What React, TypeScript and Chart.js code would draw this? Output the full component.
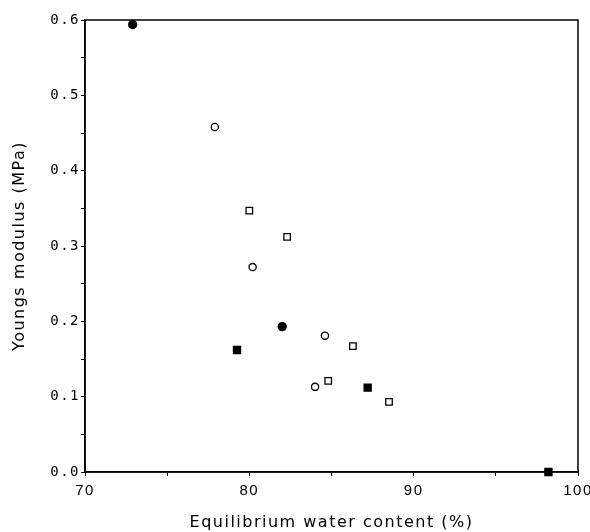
import React, { useEffect, useRef } from "react";
import { Chart, registerables } from "chart.js";

Chart.register(...registerables);

const filledCircleX = [72.9, 82.0];
const filledCircleY = [0.594, 0.193];
const openCircleX = [77.9, 80.2, 84.6, 84.0];
const openCircleY = [0.458, 0.272, 0.181, 0.113];
const openSquareX = [80.0, 82.3, 86.3, 84.8, 88.5];
const openSquareY = [0.347, 0.312, 0.167, 0.121, 0.093];
const filledSquareX = [79.25, 87.2, 98.2];
const filledSquareY = [0.162, 0.112, 0.0];

const xTitle = "Equilibrium water content (%)";
const yTitle = "Youngs modulus (MPa)";

const toPts = (xs: number[], ys: number[]) => xs.map((x, i) => ({ x, y: ys[i] }));

const spacing = {
  id: "spacing",
  beforeUpdate(chart: any) { chart.ctx.letterSpacing = "1.5px"; },
  beforeDraw(chart: any) { chart.ctx.letterSpacing = "1.5px"; },
};

const frame = {
  id: "frame",
  afterDatasetsDraw(chart: any) {
    const { ctx, chartArea } = chart;
    ctx.save();
    ctx.strokeStyle = "#000";
    ctx.lineWidth = 1.5;
    ctx.strokeRect(chartArea.left, chartArea.top, chartArea.right - chartArea.left, chartArea.bottom - chartArea.top);
    ctx.restore();
  },
};

export default function App() {
  const ref = useRef<HTMLCanvasElement>(null);
  useEffect(() => {
    document.body.style.margin = "0";
    const base = { showLine: false, clip: false as any, borderColor: "#000", borderWidth: 1.3 };
    const chart = new Chart(ref.current!, {
      type: "scatter",
      data: {
        datasets: [
          { ...base, data: toPts(filledCircleX, filledCircleY), pointStyle: "circle", pointRadius: 4, backgroundColor: "#000" },
          { ...base, data: toPts(openCircleX, openCircleY), pointStyle: "circle", pointRadius: 3.6, backgroundColor: "#fff" },
          { ...base, data: toPts(openSquareX, openSquareY), pointStyle: "rect", pointRadius: 4.6, backgroundColor: "#fff" },
          { ...base, data: toPts(filledSquareX, filledSquareY), pointStyle: "rect", pointRadius: 5, backgroundColor: "#000" },
        ],
      },
      options: {
        animation: false,
        responsive: false,
        layout: { padding: { top: 20, right: 0, left: 0, bottom: 0 } },
        plugins: { legend: { display: false }, tooltip: { enabled: false } },
        scales: {
          x: {
            type: "linear",
            min: 70,
            max: 100,
            border: { display: true, color: "#000", width: 1.5 },
            grid: { drawOnChartArea: false, tickLength: 4, color: "#000" },
            ticks: {
              stepSize: 5,
              autoSkip: false,
              maxRotation: 0,
              color: "#000",
              padding: 6,
              font: { family: "Liberation Sans", size: 15 },
              callback: (v: any) => (Math.round(v) % 10 === 0 ? String(Math.round(v)) : ""),
            },
            title: { display: true, text: xTitle, color: "#000", font: { family: "DejaVu Sans", size: 16 }, padding: { top: 8, bottom: 0 } },
            afterFit: (s: any) => { s.height = 60; s.paddingRight = 12; s.paddingLeft = 0; },
          },
          y: {
            type: "linear",
            min: 0,
            max: 0.6,
            border: { display: true, color: "#000", width: 1.5 },
            grid: { drawOnChartArea: false, tickLength: 4, color: "#000" },
            ticks: {
              stepSize: 0.05,
              autoSkip: false,
              color: "#000",
              padding: 1,
              font: { family: "DejaVu Sans Mono", size: 14 },
              callback: (v: any) => (Math.round(v * 100) % 10 === 0 ? Number(v).toFixed(1) : ""),
            },
            title: { display: true, text: yTitle, color: "#000", font: { family: "DejaVu Sans", size: 16 }, padding: { top: 10, bottom: 4 } },
            afterFit: (s: any) => { s.width = 85; },
          },
        },
      },
      plugins: [spacing, frame],
    });
    return () => chart.destroy();
  }, []);
  return <canvas ref={ref} width={590} height={532} style={{ display: "block" }} />;
}
